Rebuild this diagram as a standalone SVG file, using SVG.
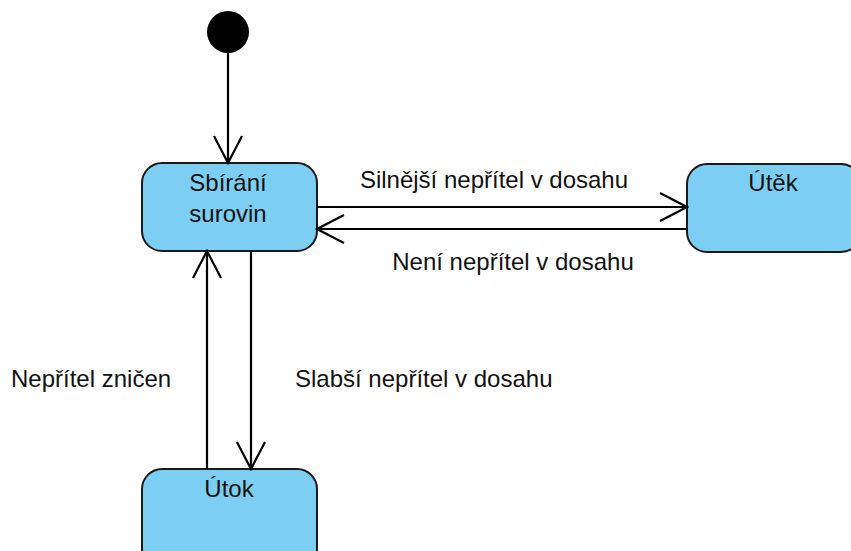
<svg xmlns="http://www.w3.org/2000/svg" width="851" height="551" viewBox="0 0 851 551">
<defs>
<style>
.state{fill:#7CCFF2;stroke:#1a1a1a;stroke-width:2}
.t{font-family:"Liberation Sans",Arial,sans-serif;font-size:24px;fill:#111}
.c{text-anchor:middle}
.ln{stroke:#000;stroke-width:2.2;fill:none}
</style>
<marker id="open" viewBox="0 0 30 30" refX="28" refY="15" markerWidth="30" markerHeight="30" markerUnits="userSpaceOnUse" orient="auto">
<path d="M1,1 L28,15 L1,29" fill="none" stroke="#000" stroke-width="2.2"/>
</marker>
</defs>
<rect width="851" height="551" fill="#fff"/>
<g id="start"><circle cx="228" cy="32" r="21" fill="#000"/></g>
<g id="sbirani">
<rect class="state" x="142" y="163" width="175" height="88" rx="20"/>
<text class="t c" x="228" y="191">Sbírání</text>
<text class="t c" x="228" y="222">surovin</text>
</g>
<g id="utek">
<rect class="state" x="687" y="164" width="174" height="88" rx="20"/>
<text class="t c" x="773" y="191">Útěk</text>
</g>
<g id="utok">
<rect class="state" x="142" y="469" width="175" height="100" rx="20"/>
<text class="t c" x="229" y="497">Útok</text>
</g>
<g id="connectors">
<line class="ln" x1="228" y1="53" x2="228" y2="163" marker-end="url(#open)"/>
<line class="ln" x1="317" y1="207" x2="687" y2="207" marker-end="url(#open)"/>
<line class="ln" x1="687" y1="229" x2="317" y2="229" marker-end="url(#open)"/>
<line class="ln" x1="251" y1="251" x2="251" y2="469" marker-end="url(#open)"/>
<line class="ln" x1="207" y1="469" x2="207" y2="251" marker-end="url(#open)"/>
<text class="t c" x="494" y="188">Silnější nepřítel v dosahu</text>
<text class="t c" x="513" y="270">Není nepřítel v dosahu</text>
<text class="t" x="11" y="387">Nepřítel zničen</text>
<text class="t" x="295" y="387">Slabší nepřítel v dosahu</text>
</g>
</svg>
